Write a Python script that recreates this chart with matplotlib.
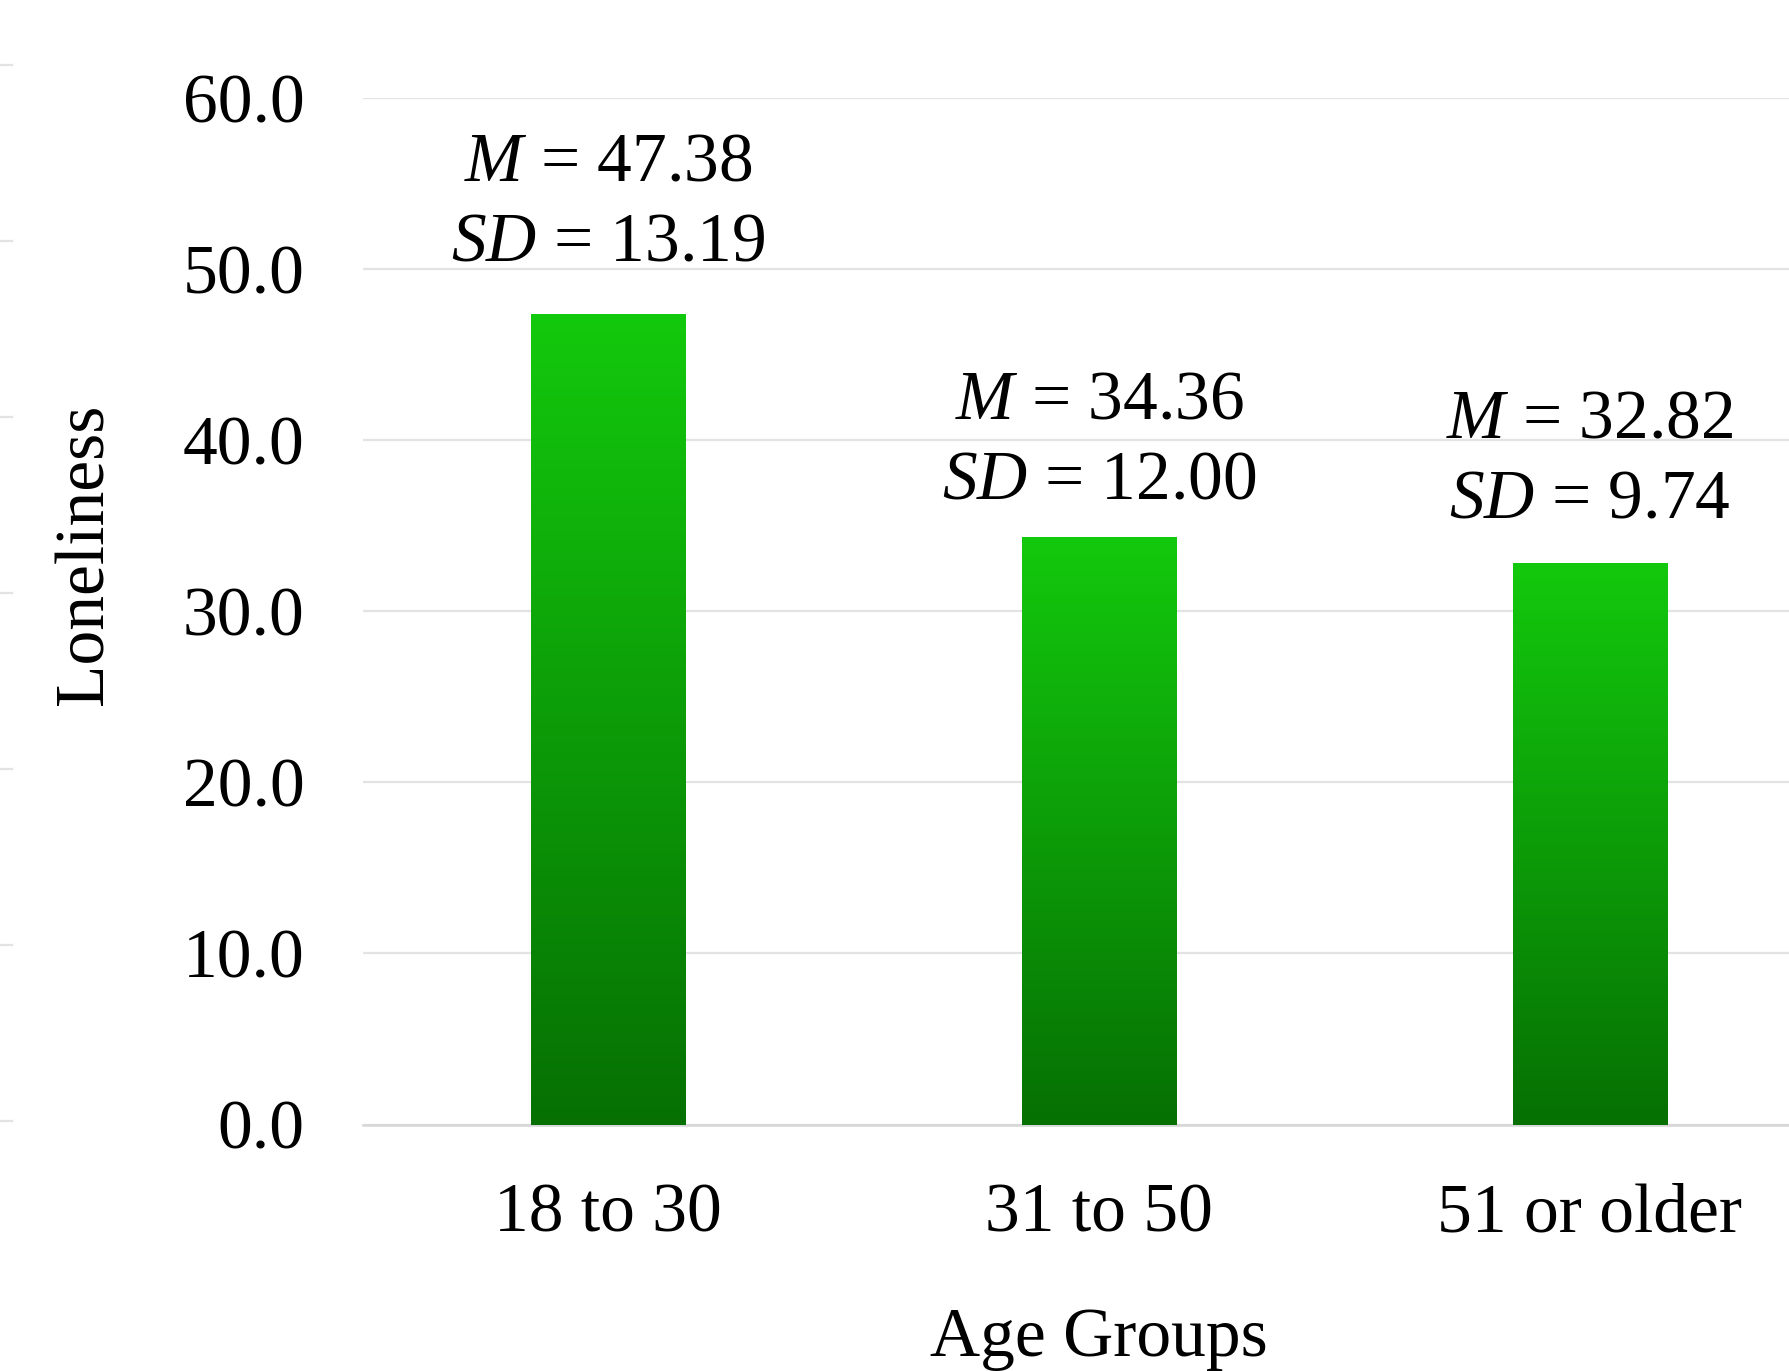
import numpy as np
import matplotlib
matplotlib.use("Agg")
import matplotlib.pyplot as plt
from matplotlib.colors import LinearSegmentedColormap
from matplotlib.lines import Line2D

plt.rcParams['font.family'] = ['Liberation Serif', 'DejaVu Serif']
plt.rcParams['mathtext.fontset'] = 'custom'
plt.rcParams['mathtext.rm'] = 'Liberation Serif'
plt.rcParams['mathtext.it'] = 'Liberation Serif:italic'

# data
groups = ['18 to 30', '31 to 50', '51 or older']
means = [47.38, 34.36, 32.82]
sds = [13.19, 12.00, 9.74]
yticks = [0, 10, 20, 30, 40, 50, 60]

# gap (points) between bar top and label
label_gap = [28, 17, 22]

fig = plt.figure(figsize=(17.9, 13.71), dpi=100)
# axes runs off the right edge like the original crop
ax = fig.add_axes([363/1790, 246.5/1371, 1472/1790, 1026.5/1371])

x = np.arange(len(groups))
bw = 0.314
bars = ax.bar(x, means, width=bw, color='none', edgecolor='none', zorder=3)

cmap = LinearSegmentedColormap.from_list('g', ['#067003', '#13C90D'])
grad = np.linspace(0, 1, 256).reshape(-1, 1)
for b in bars:
    x0, y0 = b.get_x(), b.get_y()
    w, h = b.get_width(), b.get_height()
    im = ax.imshow(grad, cmap=cmap, origin='lower', aspect='auto',
                   extent=[x0, x0 + w, y0, y0 + h], zorder=3)
    im.set_clip_path(b)

ax.set_xlim(-0.5, len(groups) - 0.5)
ax.set_ylim(0, 60)
ax.set_yticks(yticks)
ax.set_yticklabels(['%.1f' % v for v in yticks])
ax.set_xticks(x)
ax.set_xticklabels(groups)
ax.tick_params(axis='both', length=0, labelsize=50)
ax.tick_params(axis='y', pad=42)
ax.tick_params(axis='x', pad=42)

ax.grid(axis='y', color='#E3E3E3', linewidth=1.6, zorder=0)
ax.set_axisbelow(True)
for s in ['top', 'right', 'left']:
    ax.spines[s].set_visible(False)
ax.spines['bottom'].set_color('#D6D6D6')
ax.spines['bottom'].set_linewidth(1.8)

for i in range(len(groups)):
    txt = '$M$ = %.2f\n$SD$ = %.2f' % (means[i], sds[i])
    ax.annotate(txt, (x[i], means[i]), xytext=(0, label_gap[i]),
                textcoords='offset points', ha='center', va='bottom',
                fontsize=50, linespacing=1.34, zorder=4)

ax.set_xlabel('Age Groups', fontsize=50, labelpad=44)
fig.text(86/1790, 1 - 554/1371, 'Loneliness', rotation=90, fontsize=50,
         ha='center', va='center')

# stray gridline stubs at the left edge of the source image
for yy in np.linspace(65, 1121, 7):
    fig.add_artist(Line2D([0, 12/1790], [1 - yy/1371, 1 - yy/1371],
                          color='#E3E3E3', linewidth=1.6))

fig.savefig('out.png', dpi=100)
